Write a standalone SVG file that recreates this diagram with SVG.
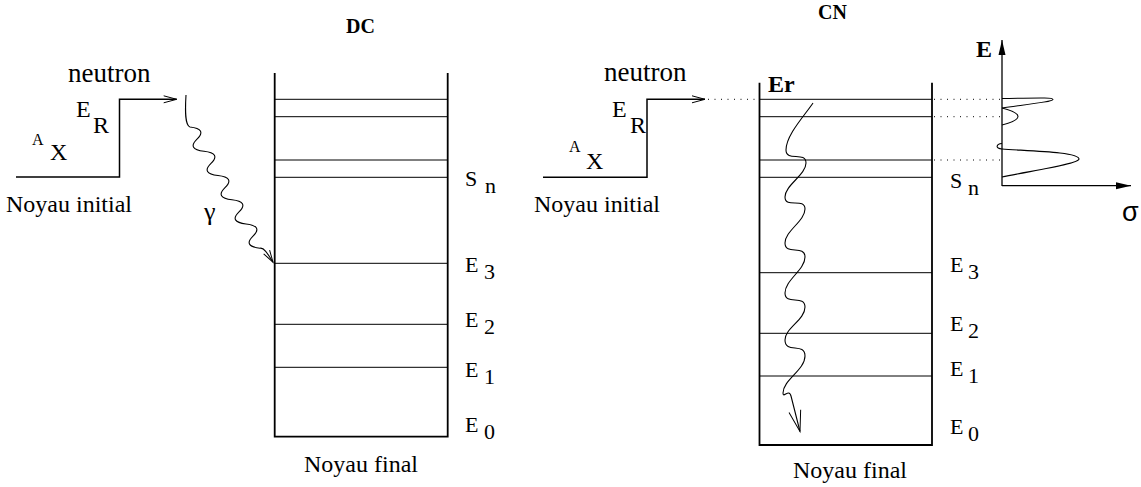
<svg xmlns="http://www.w3.org/2000/svg" width="1141" height="487" viewBox="0 0 1141 487" font-family="'Liberation Serif', 'DejaVu Serif', serif">
<style>
text{font-family:'Liberation Serif','DejaVu Serif',serif;fill:#000}
.t{font-size:24px}
.n{font-size:27px}
.sup{font-size:16px}
.lab{font-size:22px}
.b{font-weight:bold}
.side{stroke:#000;stroke-width:1.8;fill:none}
.lvl{stroke:#000;stroke-width:1;fill:none}
.step{stroke:#000;stroke-width:1.5;fill:none}
.wave{stroke:#000;stroke-width:1.1;fill:none}
.dot{stroke:#000;stroke-width:1;stroke-dasharray:1 5.5;fill:none}
.curve{stroke:#000;stroke-width:1.1;fill:none}
</style>
<defs>
<marker id="vOpen" markerUnits="userSpaceOnUse" markerWidth="16" markerHeight="10" refX="13" refY="4" orient="auto" overflow="visible">
<path d="M0,0.5 L13,4 L0,7.5" fill="none" stroke="#000" stroke-width="1"/>
</marker>
<marker id="vLong" markerUnits="userSpaceOnUse" markerWidth="24" markerHeight="14" refX="21" refY="6" orient="auto" overflow="visible">
<path d="M0,0 L21,6 L0,12" fill="none" stroke="#000" stroke-width="1"/>
</marker>
<marker id="vSmall" markerUnits="userSpaceOnUse" markerWidth="14" markerHeight="8" refX="12" refY="3.5" orient="auto" overflow="visible">
<path d="M0,0 L12,3.5 L0,7" fill="none" stroke="#000" stroke-width="1"/>
</marker>
<marker id="solid" markerUnits="userSpaceOnUse" markerWidth="16" markerHeight="8" refX="15" refY="3.5" orient="auto" overflow="visible">
<path d="M0,0 L15,3.5 L0,7 Z" fill="#000"/>
</marker>
</defs>

<g id="dc-title"><text class="b" x="346" y="33" style="font-size:20px">DC</text></g>

<g id="dc-initial">
<text class="n" x="68" y="82">neutron</text>
<text class="t" x="76" y="116.5">E</text>
<text class="t" x="93" y="133">R</text>
<text class="sup" x="32" y="145">A</text>
<text class="t" x="50" y="160">X</text>
<text class="t" x="6" y="212">Noyau initial</text>
</g>

<g id="dc-final">
<path class="side" d="M274.7,73 V436.7 H447.7 V73"/>
<path class="lvl" d="M275,99.3 H447 M275,116.7 H447 M275,160 H447 M275,177.3 H447 M275,263.3 H447 M275,324.3 H447 M275,367.3 H447"/>
<text class="lab" x="465" y="186">S</text><text class="lab" x="485" y="193">n</text>
<text class="lab" x="465" y="272">E</text><text class="lab" x="484" y="279">3</text>
<text class="lab" x="465" y="327">E</text><text class="lab" x="484" y="334">2</text>
<text class="lab" x="465" y="377">E</text><text class="lab" x="484" y="384">1</text>
<text class="lab" x="465" y="432">E</text><text class="lab" x="484" y="439">0</text>
<text class="t" x="361" y="472" text-anchor="middle">Noyau final</text>
</g>

<g id="dc-gamma">
<text x="204" y="220" style="font-size:26px">γ</text>
</g>

<g id="cn-title"><text class="b" x="818" y="19" style="font-size:20px">CN</text></g>

<g id="cn-initial">
<text class="n" x="604" y="81">neutron</text>
<text class="t" x="612" y="116.5">E</text>
<text class="t" x="630" y="133">R</text>
<text class="sup" x="569" y="152">A</text>
<text class="t" x="586" y="169">X</text>
<text class="t" x="534" y="212">Noyau initial</text>
</g>

<g id="cn-final">
<path class="side" d="M759.5,82.7 V445 H932 V82.7"/>
<path class="lvl" d="M760,99.3 H932 M760,116.7 H932 M760,160 H932 M760,177.3 H932 M760,272.7 H932 M760,333.3 H932 M760,376 H932"/>
<text class="b" x="768" y="92" style="font-size:24px">Er</text>
<text class="lab" x="950" y="188">S</text><text class="lab" x="968" y="195">n</text>
<text class="lab" x="950" y="272">E</text><text class="lab" x="968" y="279">3</text>
<text class="lab" x="950" y="331">E</text><text class="lab" x="968" y="338">2</text>
<text class="lab" x="950" y="376">E</text><text class="lab" x="968" y="383">1</text>
<text class="lab" x="950" y="434">E</text><text class="lab" x="968" y="441">0</text>
<text class="t" x="850" y="478" text-anchor="middle">Noyau final</text>
</g>

<g id="cn-spectrum">
<path class="step" d="M1002,186 V40" marker-end="url(#solid)" style="stroke-width:1.3"/>
<path class="step" d="M1002,185.7 H1131" marker-end="url(#solid)" style="stroke-width:1.3"/>
<text class="b" x="976" y="57" style="font-size:24px">E</text>
<text x="1122" y="221" font-family="'Liberation Sans', sans-serif" style="font-family:'Liberation Sans',sans-serif;font-size:27px">σ</text>
<path class="curve" d="M1002,98.5 C1030,98.3 1053,97 1053,99.4 C1053,101.5 1030,104 1002,108"/>
<path class="curve" d="M1002,108 Q1034,116.5 1002,125"/>
<path class="curve" d="M1002,143.5 C996,144 995,148.5 1002,149 C1030,151 1079,152 1079,159 C1079,164 1030,171 1002,177"/>
</g>

<g id="connectors">
<path class="step" d="M16,177 H119.5 V99.3 H176.7" marker-end="url(#vOpen)"/>
<path class="wave" d="M186,95 C185,112 185,125 190,127 q17.35,2.06 7,12.12 t7,12.12 t7,12.12 t7,12.12 t7,12.12 t7,12.12 t7,12.12 t7,12.12 t7,12.12 t7,12.12 c4,-1 8,6 13,14" marker-end="url(#vSmall)"/>
<path class="step" d="M543,177.3 H647 V99.3 H705" marker-end="url(#vOpen)"/>
<path class="dot" d="M708,99.3 H759"/>
<path class="dot" d="M934,99.3 H1001 M934,116.7 H1001 M934,160 H1001"/>
<path class="wave" d="M813,103 C805,115 786,135 786,150 C786,162 806,151 806,163 C806,175 785,185 785,197 C785,209 805,197 805,209 C805,221 785,231 785,243 C785,256 805,244 805,257 C805,270 785,280 785,293 C785,306 805,294 805,307 C805,320 785,328 785,340 C785,354 805,342 805,356 C805,370 783,380 783,393 C783,399 789,388 791,396 L800,431.5" marker-end="url(#vLong)"/>
</g>
</svg>
